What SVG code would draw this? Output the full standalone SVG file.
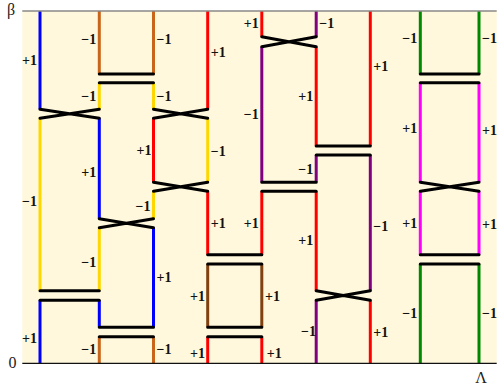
<svg xmlns="http://www.w3.org/2000/svg" width="501" height="385" viewBox="0 0 501 385">
<style>
.ln{fill:none;stroke-width:3;stroke-linecap:butt}
.bl{stroke:#0000FF}.ye{stroke:#FFD700}.br{stroke:#C8651B}.db{stroke:#804010}
.rd{stroke:#FF0000}.pu{stroke:#800080}.gr{stroke:#008800}.mg{stroke:#FF00FF}
.bk{fill:none;stroke:#000;stroke-width:3;stroke-linecap:round}
.lb{font-family:"Liberation Serif","Times New Roman",serif;font-weight:bold;font-size:14px;fill:#111}
.e{text-anchor:end}
.ax{font-family:"Liberation Serif","Times New Roman",serif;font-size:16px;fill:#222}
</style>
<rect x="22.3" y="11" width="474.4" height="352.3" fill="#FFF8DC"/>
<g id="worldlines">
<path class="ln bl" d="M40 11V109.3M40 300.3V363.3M99.3 118.3V218.7M99.3 300.3V327.3M153.5 227.7V327.3"/>
<path class="ln ye" d="M40 118.3V290.7M99.3 82.7V109.3M99.3 227.7V290.7M153.5 82.7V109.3M153.5 191.3V218.7M207.7 118.3V182.3"/>
<path class="ln br" d="M99.3 11V74M99.3 336.7V363.3M153.5 11V74M153.5 336.7V363.3"/>
<path class="ln db" d="M207.7 264V327.3M261.8 264V327.3"/>
<path class="ln rd" d="M153.5 118.3V182.3M207.7 11V109.3M207.7 191.3V254.7M207.7 336.7V363.3M261.8 11V36.7M261.8 191.3V254.7M261.8 336.7V363.3M316.2 46.7V146M316.2 191.3V290.7M370.3 11V146M370.3 300.3V363.3"/>
<path class="ln pu" d="M261.8 46.7V182.3M316.2 11V36.7M316.2 155V182.3M316.2 300.3V363.3M370.3 155V290.7"/>
<path class="ln gr" d="M420.3 11V74M420.3 264V363.3M479 11V74M479 264V363.3"/>
<path class="ln mg" d="M420.3 82.7V182.3M420.3 191.3V254.7M479 82.7V182.3M479 191.3V254.7"/>
</g>
<g id="connectors">
<path class="bk" d="M99.3 74H153.5M99.3 82.7H153.5M99.3 327.3H153.5M99.3 336.7H153.5M40 290.7H99.3M40 300.3H99.3M207.7 254.7H261.8M207.7 264H261.8M207.7 327.3H261.8M207.7 336.7H261.8M261.8 182.3H316.2M261.8 191.3H316.2M316.2 146H370.3M316.2 155H370.3M420.3 74H479M420.3 82.7H479M420.3 254.7H479M420.3 264H479"/>
<path class="bk" d="M40 109.3L99.3 118.3M99.3 109.3L40 118.3M153.5 109.3L207.7 118.3M207.7 109.3L153.5 118.3M153.5 182.3L207.7 191.3M207.7 182.3L153.5 191.3M99.3 218.7L153.5 227.7M153.5 218.7L99.3 227.7M261.8 36.7L316.2 46.7M316.2 36.7L261.8 46.7M316.2 290.7L370.3 300.3M370.3 290.7L316.2 300.3M420.3 182.3L479 191.3M479 182.3L420.3 191.3"/>
</g>
<g id="axes">
<line x1="22.3" y1="11" x2="496.7" y2="11" stroke="#888" stroke-width="1.5"/>
<line x1="22.3" y1="363.3" x2="496.7" y2="363.3" stroke="#111" stroke-width="1.2"/>
<text class="ax" x="7" y="14.5">β</text>
<text class="ax" x="8.5" y="368.3">0</text>
<text class="ax" x="481" y="383" text-anchor="middle">Λ</text>
</g>
<g id="labels">
<text class="lb e" x="37" y="65">+1</text>
<text class="lb e" x="96.3" y="44">−1</text>
<text class="lb" x="156.5" y="44">−1</text>
<text class="lb e" x="96.3" y="101">−1</text>
<text class="lb" x="156.5" y="101">−1</text>
<text class="lb" x="210.7" y="57">+1</text>
<text class="lb e" x="258.8" y="28">+1</text>
<text class="lb" x="319.2" y="28">−1</text>
<text class="lb e" x="313.2" y="101">+1</text>
<text class="lb e" x="258.8" y="119">−1</text>
<text class="lb" x="373.3" y="71">+1</text>
<text class="lb e" x="417.3" y="42.5">−1</text>
<text class="lb" x="482" y="42.5">−1</text>
<text class="lb e" x="151.5" y="155">+1</text>
<text class="lb e" x="96.3" y="176.5">+1</text>
<text class="lb e" x="37" y="206">−1</text>
<text class="lb e" x="150.5" y="210.5">−1</text>
<text class="lb" x="210.7" y="156">−1</text>
<text class="lb e" x="313.2" y="174">−1</text>
<text class="lb" x="210.7" y="228">+1</text>
<text class="lb e" x="258.8" y="228">+1</text>
<text class="lb e" x="313.2" y="245">+1</text>
<text class="lb e" x="417.3" y="132.5">+1</text>
<text class="lb" x="482" y="134.5">+1</text>
<text class="lb" x="373.3" y="231">−1</text>
<text class="lb e" x="417.3" y="228">+1</text>
<text class="lb" x="482" y="229">+1</text>
<text class="lb e" x="96.3" y="267">−1</text>
<text class="lb" x="156.5" y="282">+1</text>
<text class="lb e" x="37" y="343">+1</text>
<text class="lb e" x="96.3" y="354">−1</text>
<text class="lb" x="156.5" y="354">−1</text>
<text class="lb e" x="205" y="300.5">+1</text>
<text class="lb" x="265" y="300.5">+1</text>
<text class="lb e" x="316" y="336">−1</text>
<text class="lb e" x="205" y="358">+1</text>
<text class="lb" x="266.7" y="358">+1</text>
<text class="lb" x="373.3" y="336.5">+1</text>
<text class="lb e" x="417.3" y="318">−1</text>
<text class="lb" x="482" y="318">−1</text>
</g>
</svg>
